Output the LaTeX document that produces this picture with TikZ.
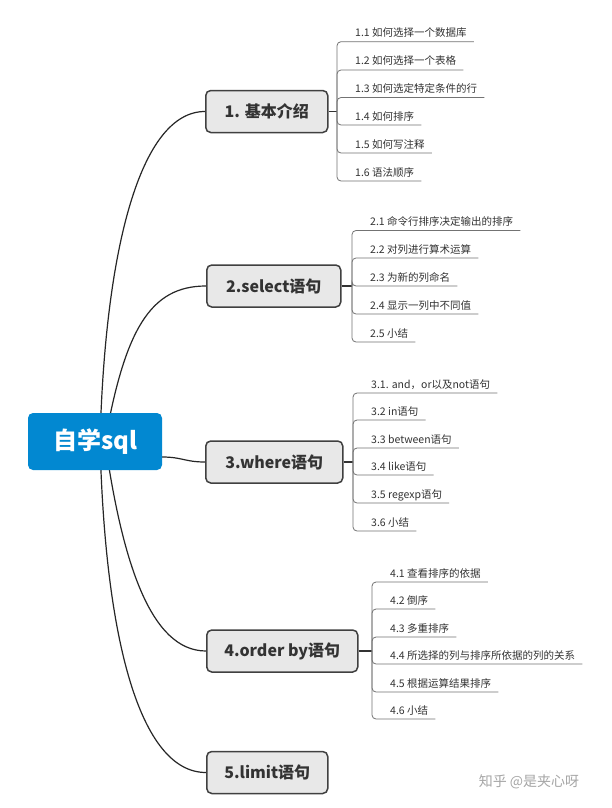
\documentclass[tikz,border=0pt]{standalone}
\usepackage{fontspec}
\setmainfont{Noto Sans CJK SC}
\usetikzlibrary{calc,backgrounds}
\definecolor{rootblue}{HTML}{0288D1}
\definecolor{topicgray}{HTML}{E8E8E8}
\definecolor{topicline}{HTML}{404040}
\newcommand\mmleaf[5]{%
  \node[leaf] (#2) at (#3,#4-5) {#5};
  \draw[leafline] (#1) |- ($(#2.base east)+(7,5)$);
}
\begin{document}
\begin{tikzpicture}[x=1pt,y=-1pt,
  rootnode/.style={fill=rootblue, rounded corners=5pt, minimum width=134pt, minimum height=57pt,
    text=white, font=\fontsize{24}{28}\selectfont\bfseries, inner sep=0},
  topic/.style={fill=topicgray, draw=topicline, line width=1.5pt, rounded corners=5pt,
    minimum height=42pt, font=\fontsize{16}{19}\selectfont\bfseries, text=black!80, anchor=west, inner sep=0},
  leaf/.style={anchor=base west, inner sep=0, font=\fontsize{10.5}{12}\selectfont, text=black!80},
  leafline/.style={draw=black!55, line width=0.8pt, rounded corners=4pt},
  stem/.style={draw=black!80, line width=1.5pt},
  mainline/.style={draw=black!85, line width=1.2pt}]
\useasboundingbox (0,0) rectangle (611,808);

\node[rootnode] (root) at (95,441.5) {自学sql};
\node[topic, minimum width=122pt] (b1) at (205,111.5) {1. 基本介绍};
\node[topic, minimum width=134pt] (b2) at (206,286) {2.select语句};
\node[topic, minimum width=137pt] (b3) at (205,462) {3.where语句};
\node[topic, minimum width=151pt] (b4) at (206,651) {4.order by语句};
\node[topic, minimum width=121pt] (b5) at (206,772.5) {5.limit语句};

\begin{scope}[on background layer]
\fill[white] (0,0) rectangle (611,808);
\draw[mainline] ($(root.center)+(5,0)$) .. controls (105,250) and (140,111.5) .. (b1.west);
\draw[mainline] ($(root.center)+(10,0)$) .. controls (125,330) and (150,286) .. (b2.west);
\draw[mainline] (root.east |- 0,457) .. controls (182,457) and (185,462) .. (b3.west);
\draw[mainline] ($(root.center)+(10,0)$) .. controls (122,560) and (150,651) .. (b4.west);
\draw[mainline] ($(root.center)+(5,0)$) .. controls (105,640) and (140,772.5) .. (b5.west);
\end{scope}

\coordinate (j1) at (337,111.5);
\coordinate (j2) at (352,286);
\coordinate (j3) at (353,462);
\coordinate (j4) at (372,651);
\draw[stem] (b1.east) -- (j1);
\draw[stem] (b2.east) -- (j2);
\draw[stem] (b3.east) -- (j3);
\draw[stem] (b4.east) -- (j4);

\mmleaf{j1}{l11}{355}{41.7}{1.1 如何选择一个数据库}
\mmleaf{j1}{l12}{355}{70}{1.2 如何选择一个表格}
\mmleaf{j1}{l13}{355}{97.5}{1.3 如何选定特定条件的行}
\mmleaf{j1}{l14}{355}{125}{1.4 如何排序}
\mmleaf{j1}{l15}{355}{153}{1.5 如何写注释}
\mmleaf{j1}{l16}{355}{181}{1.6 语法顺序}

\mmleaf{j2}{l21}{370}{230.5}{2.1 命令行排序决定输出的排序}
\mmleaf{j2}{l22}{370}{258}{2.2 对列进行算术运算}
\mmleaf{j2}{l23}{370}{286}{2.3 为新的列命名}
\mmleaf{j2}{l24}{370}{314}{2.4 显示一列中不同值}
\mmleaf{j2}{l25}{370}{342}{2.5 小结}

\mmleaf{j3}{l31}{371}{393}{3.1. and，or以及not语句}
\mmleaf{j3}{l32}{371}{420}{3.2 in语句}
\mmleaf{j3}{l33}{371}{448}{3.3 between语句}
\mmleaf{j3}{l34}{371}{475}{3.4 like语句}
\mmleaf{j3}{l35}{371}{503}{3.5 regexp语句}
\mmleaf{j3}{l36}{371}{531}{3.6 小结}

\mmleaf{j4}{l41}{390}{582}{4.1 查看排序的依据}
\mmleaf{j4}{l42}{390}{609}{4.2 倒序}
\mmleaf{j4}{l43}{390}{637}{4.3 多重排序}
\mmleaf{j4}{l44}{390}{664}{4.4 所选择的列与排序所依据的列的关系}
\mmleaf{j4}{l45}{390}{692}{4.5 根据运算结果排序}
\mmleaf{j4}{l46}{390}{719}{4.6 小结}

\node[text=black!35, font=\fontsize{14}{16}\selectfont, inner sep=0] (wm) at (529,782) {知乎 @是夹心呀};
\end{tikzpicture}
\end{document}
